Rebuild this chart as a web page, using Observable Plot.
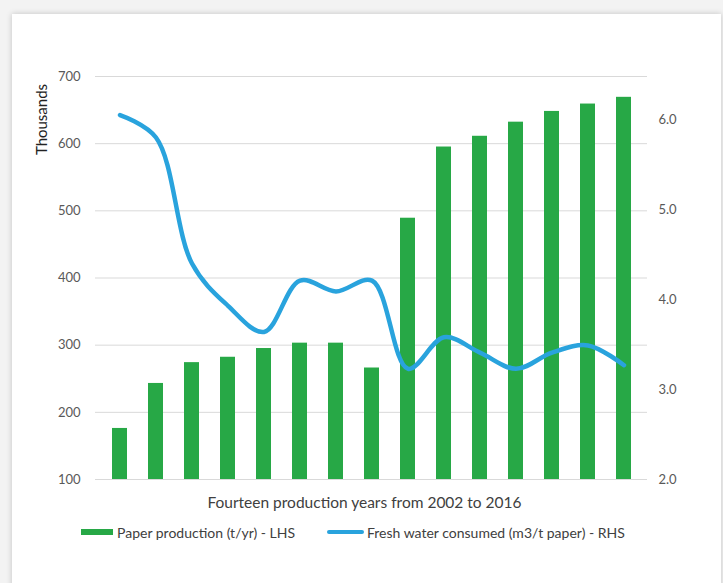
<!DOCTYPE html>
<html>
<head>
<meta charset="utf-8">
<script src="https://cdn.jsdelivr.net/npm/d3@7"></script>
<script src="https://cdn.jsdelivr.net/npm/@observablehq/plot@0.6"></script>
<style>
  html, body { margin: 0; padding: 0; width: 723px; height: 583px; overflow: hidden; background: #f3f3f3; font-family: Lato, "Open Sans", sans-serif; }
  #card { position: absolute; left: 12px; top: 14px; width: 709px; height: 600px; background: #fff; box-shadow: 0 0 6px rgba(0,0,0,0.2); }
  #chart { position: absolute; left: 0; top: 0; }
  #legend { position: absolute; top: 523px; left: 0; width: 723px; height: 20px; font-size: 14px; color: #404040; }
  .item { position: absolute; top: 0; display: flex; align-items: center; height: 18px; white-space: nowrap; }
  .sw { display: inline-block; }
</style>
</head>
<body>
<div id="card"></div>
<div id="chart"></div>
<div id="legend">
  <div class="item" style="left:81px"><span class="sw" style="width:32px;margin-right:4px;height:6px;background:#27a846"></span>Paper production (t/yr) - LHS</div>
  <div class="item" style="left:327px"><span class="sw" style="width:37px;margin-right:3px;height:4px;border-radius:2px;background:#29a3dd"></span>Fresh water consumed (m3/t paper) - RHS</div>
</div>
<script>
// Data
const years = ["2002","2003","2004","2005","2006","2007","2008","2009","2010","2011","2012","2013","2014","2015","2016"];
const paperThousands = [176, 243, 274, 282, 295, 303, 303, 266, 489, 595, 611, 632, 648, 659, 669];
const waterPerTon = [6.05, 5.80, 4.40, 3.93, 3.64, 4.21, 4.09, 4.21, 3.23, 3.58, 3.41, 3.23, 3.41, 3.49, 3.27];
const leftTicks = [100, 200, 300, 400, 500, 600, 700];
const rightTicks = [2.0, 3.0, 4.0, 5.0, 6.0];

// right axis mapping onto the left scale: 2.0 at 100, 6.0 sits at ~636
const rMin = 2, rMax = 6.478, lMin = 100, lMax = 700;
const toLeft = v => lMin + (v - rMin) * (lMax - lMin) / (rMax - rMin);
const fromLeft = v => rMin + (v - lMin) * (rMax - rMin) / (lMax - lMin);

const bars = years.map((y, i) => ({year: y, paper: paperThousands[i]}));
const line = years.map((y, i) => ({year: y, water: toLeft(waterPerTon[i])}));

const chart = Plot.plot({
  width: 723,
  height: 515,
  marginTop: 76,
  marginBottom: 36,
  marginLeft: 95,
  marginRight: 76,
  style: {background: "transparent", fontFamily: "Lato, 'Open Sans', sans-serif", fontSize: "13px"},
  x: {type: "band", domain: years, paddingInner: 0.59, paddingOuter: 0.295, axis: null},
  y: {domain: [lMin, lMax], axis: null},
  marks: [
    Plot.gridY(leftTicks, {stroke: "#d9d9d9", strokeOpacity: 1, strokeWidth: 1}),
    Plot.barY(bars, {x: "year", y1: lMin, y2: "paper", fill: "#27a846"}),
    Plot.line(line, {x: "year", y: "water", stroke: "#29a3dd", strokeWidth: 4.5, curve: "catmull-rom", strokeLinecap: "round", strokeLinejoin: "round"}),
    Plot.axisY(leftTicks, {anchor: "left", tickSize: 0, tickPadding: 15, fill: "#595959", fontSize: 13, label: null}),
    Plot.axisY(rightTicks.map(toLeft), {anchor: "right", tickSize: 0, tickPadding: 11, fill: "#595959", fontSize: 13, label: null, tickFormat: d => fromLeft(d).toFixed(1)}),
    Plot.text(["Fourteen production years from 2002 to 2016"], {frameAnchor: "bottom", dx: -7, dy: 24, lineAnchor: "middle", fill: "#404040", fontSize: 15.5}),
    Plot.text(["Thousands"], {frameAnchor: "top-left", dx: -53, dy: 43, rotate: -90, textAnchor: "middle", lineAnchor: "middle", fill: "#222", fontSize: 15})
  ]
});
document.getElementById("chart").appendChild(chart);
</script>
</body>
</html>
